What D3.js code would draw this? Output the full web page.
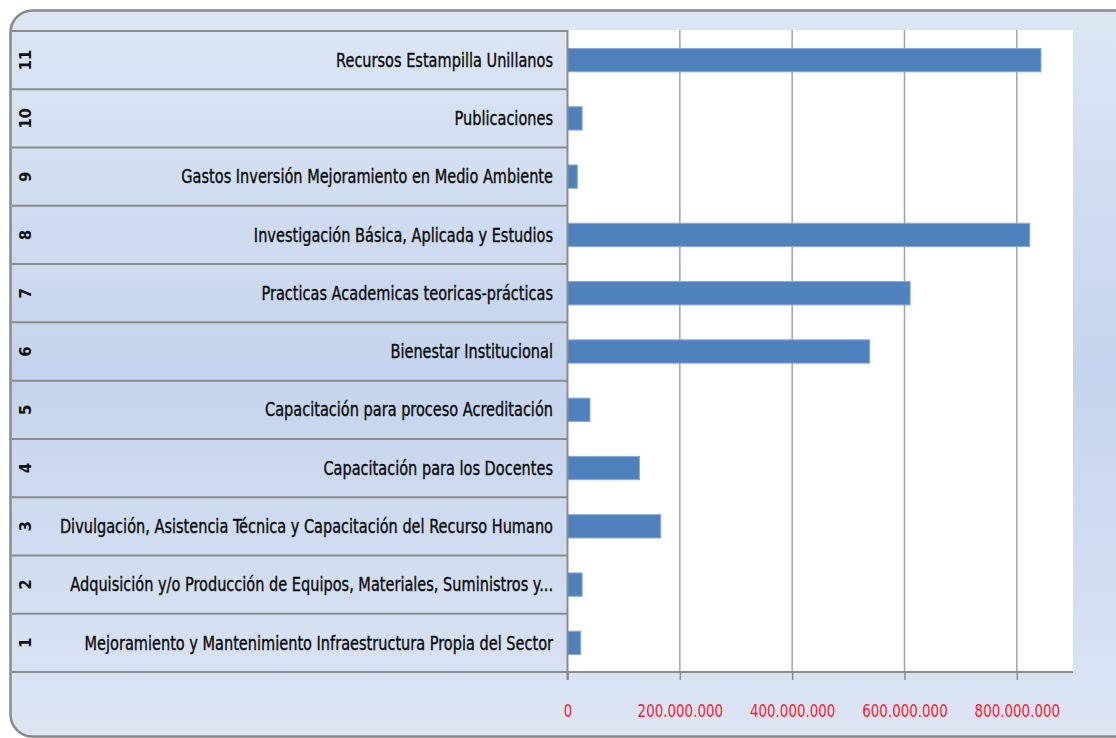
<!DOCTYPE html>
<meta charset="utf-8">
<script src="https://d3js.org/d3.v7.min.js"></script>
<style>
  body { margin: 0; background: #fff; }
  .cat { font-family: "DejaVu Sans Condensed", "Open Sans", sans-serif; font-size: 19px; fill: #0a0a0a; stroke: #0a0a0a; stroke-width: 0.35px; }
  .code { font-family: "DejaVu Sans", sans-serif; font-weight: bold; font-size: 15px; fill: #111; }
  .tick text { font-family: "DejaVu Sans Condensed", sans-serif; font-size: 18px; fill: #ff1a2e; }
</style>
<body>
<svg width="1116" height="738"></svg>
<script>
    // categories, bottom to top as in the chart
    var codes  = ["1", "2", "3", "4", "5", "6", "7", "8", "9", "10", "11"];
    var labels = [
        "Mejoramiento y Mantenimiento Infraestructura Propia del Sector",
        "Adquisición y/o Producción de Equipos, Materiales, Suministros y...",
        "Divulgación, Asistencia Técnica y Capacitación del Recurso Humano",
        "Capacitación para los Docentes",
        "Capacitación para proceso Acreditación",
        "Bienestar Institucional",
        "Practicas Academicas teoricas-prácticas",
        "Investigación Básica, Aplicada y Estudios",
        "Gastos Inversión Mejoramiento en Medio Ambiente",
        "Publicaciones",
        "Recursos Estampilla Unillanos"
    ];
    var values = [23500000, 26000000, 166000000, 128000000, 40000000, 538000000,
                  610000000, 823000000, 17500000, 26000000, 843000000];
    var tickValues = [0, 200000000, 400000000, 600000000, 800000000];

    var svg = d3.select('svg');

    var pLeft = 567.5, pRight = 1073, pTop = 31, pBottom = 672;

    // background gradient of the frame
    var defs = svg.append('defs');
    var grad = defs.append('linearGradient').attr('id', 'bg')
        .attr('x1', 0).attr('y1', 0).attr('x2', 0).attr('y2', 1);
    grad.append('stop').attr('offset', '0%').attr('stop-color', '#dde6f3');
    grad.append('stop').attr('offset', '50%').attr('stop-color', '#c5d4ee');
    grad.append('stop').attr('offset', '100%').attr('stop-color', '#dde5f3');

    svg.append('rect')
        .attr('x', 10.5).attr('y', 10.5)
        .attr('width', 1150).attr('height', 726)
        .attr('rx', 22)
        .attr('fill', 'url(#bg)')
        .attr('stroke', '#8a8a8a')
        .attr('stroke-width', 2.5);

    var x = d3.scaleLinear().domain([0, 900000000]).range([pLeft, pRight]);

    var rows = d3.scaleBand().domain(codes.slice().reverse()).range([pTop, pBottom]);
    var bars = d3.scaleBand().domain(codes.slice().reverse()).range([pTop, pBottom]).paddingInner(0.6).paddingOuter(0.3);

    // plot area
    svg.append('rect')
        .attr('x', pLeft).attr('y', pTop - 1)
        .attr('width', pRight - pLeft).attr('height', pBottom - pTop + 1)
        .attr('fill', '#fff');

    // vertical gridlines
    svg.append('g').selectAll('line')
        .data(tickValues.slice(1))
        .join('line')
        .attr('x1', d => x(d)).attr('x2', d => x(d))
        .attr('y1', pTop - 1).attr('y2', pBottom)
        .attr('stroke', '#a3a3a3')
        .attr('stroke-width', 1.5);

    // row cell borders in category area
    var bounds = codes.map(function(c){ return rows(c); }).concat([pBottom]);
    svg.append('g').selectAll('line')
        .data(bounds)
        .join('line')
        .attr('x1', 12).attr('x2', pLeft)
        .attr('y1', d => d).attr('y2', d => d)
        .attr('stroke', '#8c8c8c')
        .attr('stroke-width', 2);

    // bars
    svg.append('g').selectAll('rect')
        .data(codes)
        .join('rect')
        .attr('x', x(0))
        .attr('y', d => bars(d))
        .attr('width', (d, i) => x(values[i]) - x(0))
        .attr('height', bars.bandwidth())
        .attr('fill', '#4f81bd')
        .attr('stroke', '#88a9d6')
        .attr('stroke-width', 1);

    // category labels (narrowed horizontally to mimic the condensed face)
    svg.append('g').selectAll('text')
        .data(codes)
        .join('text')
        .attr('class', 'cat')
        .attr('transform', d => 'translate(553,' + (rows(d) + rows.bandwidth() / 2) + ') scale(0.85,1)')
        .attr('dy', '0.35em')
        .attr('text-anchor', 'end')
        .text((d, i) => labels[i]);

    // rotated category codes
    svg.append('g').selectAll('text')
        .data(codes)
        .join('text')
        .attr('class', 'code')
        .attr('transform', d => 'translate(26,' + (rows(d) + rows.bandwidth() / 2) + ') rotate(-90)')
        .attr('dy', '0.35em')
        .attr('text-anchor', 'middle')
        .text(d => d);

    // x axis
    var loc = d3.formatLocale({decimal: ',', thousands: '.', grouping: [3], currency: ['$', '']});
    var xAxis = d3.axisBottom(x)
        .tickValues(tickValues)
        .tickSize(8)
        .tickPadding(24)
        .tickFormat(loc.format(','));

    var gx = svg.append('g')
        .attr('transform', 'translate(0,' + pBottom + ')')
        .call(xAxis);
    gx.select('.domain')
        .attr('d', 'M' + pLeft + ',0H' + pRight)
        .attr('stroke', '#8c8c8c')
        .attr('stroke-width', 2);
    gx.selectAll('.tick line').attr('stroke', '#8c8c8c').attr('stroke-width', 1.5);
    gx.selectAll('.tick text').attr('transform', 'scale(0.83,1)');

    // vertical axis line
    svg.append('line')
        .attr('x1', pLeft).attr('x2', pLeft)
        .attr('y1', pTop - 1).attr('y2', pBottom + 8)
        .attr('stroke', '#8c8c8c')
        .attr('stroke-width', 2);
</script>
</body>
